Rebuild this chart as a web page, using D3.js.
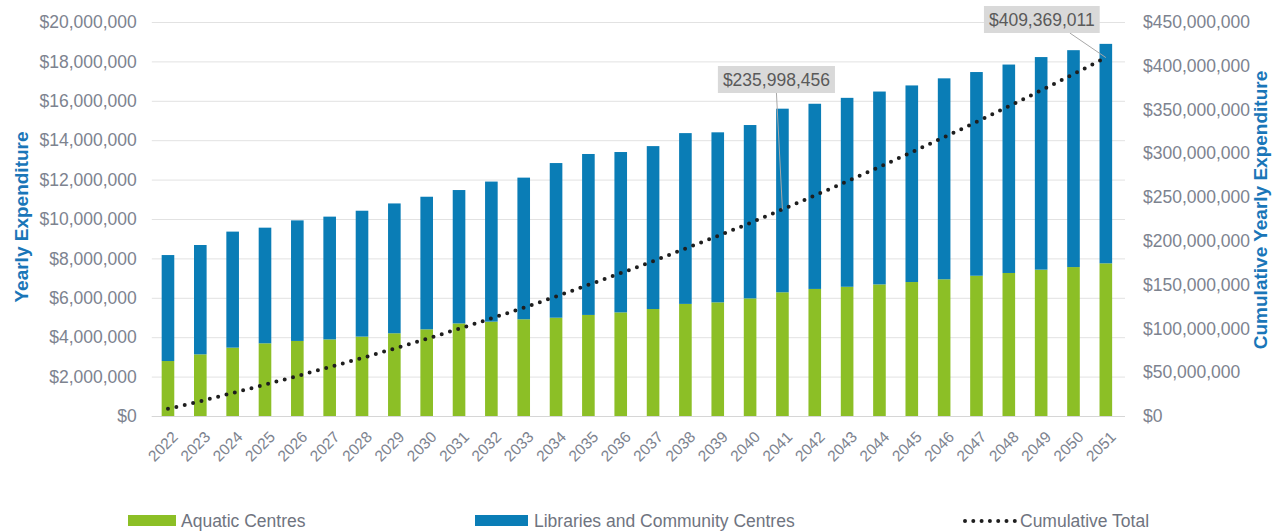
<!DOCTYPE html>
<html>
<head>
<meta charset="utf-8">
<script src="https://cdn.jsdelivr.net/npm/d3@7"></script>
<style>
  html, body { margin: 0; padding: 0; background: #ffffff; }
  svg { display: block; font-family: "Liberation Sans", Arial, sans-serif; }
</style>
</head>
<body>
<svg id="chart" width="1274" height="531"></svg>
<script>
// Capital expenditure by year, 2022–2051
const years = ["2022","2023","2024","2025","2026","2027","2028","2029","2030","2031",
               "2032","2033","2034","2035","2036","2037","2038","2039","2040","2041",
               "2042","2043","2044","2045","2046","2047","2048","2049","2050","2051"];

const aquatic = [2790000, 3130000, 3470000, 3690000, 3810000, 3890000, 4030000, 4200000, 4400000, 4700000,
                 4790000, 4910000, 4990000, 5130000, 5260000, 5430000, 5690000, 5770000, 5970000, 6280000,
                 6450000, 6560000, 6680000, 6800000, 6940000, 7120000, 7260000, 7430000, 7560000, 7750000];

const libraries = [5380000, 5550000, 5890000, 5870000, 6120000, 6230000, 6390000, 6590000, 6730000, 6770000,
                   7110000, 7190000, 7850000, 8170000, 8140000, 8270000, 8670000, 8630000, 8800000, 9320000,
                   9400000, 9590000, 9790000, 9980000, 10200000, 10340000, 10580000, 10790000, 11010000, 11140000];

const cumulative = [8170000, 16850000, 26210000, 35770000, 45700000, 55820000, 66240000, 77030000, 88160000, 99630000,
                    111530000, 123630000, 136470000, 149770000, 163170000, 176870000, 191230000, 205630000, 220400000, 235998456,
                    251850000, 268000000, 284470000, 301250000, 318390000, 335850000, 353690000, 371910000, 390480000, 409369011];

const leftTicks = [0, 2000000, 4000000, 6000000, 8000000, 10000000, 12000000, 14000000, 16000000, 18000000, 20000000];
const rightTicks = [0, 50000000, 100000000, 150000000, 200000000, 250000000, 300000000, 350000000, 400000000, 450000000];

const calloutYears = ["2041", "2051"];

const seriesNames = ["Aquatic Centres", "Libraries and Community Centres", "Cumulative Total"];

// Layout
const plot = { left: 151.8, right: 1122, top: 22, bottom: 416 };
const colors = { aquatic: "#8cbf26", libraries: "#0a7db6", line: "#1e1e1e",
                 grid: "#e2e2e2", tick: "#7d838f", title: "#1a76b8" };
const FONT = "Liberation Sans, Arial, sans-serif";

const svg = d3.select("#chart");

const x = d3.scaleBand().domain(years)
  .range([plot.left, plot.right])
  .paddingInner(0.61).paddingOuter(0.305);
const yL = d3.scaleLinear().domain([0, 20000000]).range([plot.bottom, plot.top]);
const yR = d3.scaleLinear().domain([0, 450000000]).range([plot.bottom, plot.top]);

const money = v => "$" + d3.format(",")(v);

// Gridlines + left axis labels
const leftAxis = svg.append("g")
  .attr("transform", `translate(${plot.left},0)`)
  .call(d3.axisLeft(yL).tickValues(leftTicks).tickFormat(money)
        .tickSize(-(plot.right + 3 - plot.left)).tickPadding(15));
leftAxis.select(".domain").remove();
leftAxis.selectAll(".tick line").attr("stroke", colors.grid).attr("stroke-width", 1);
leftAxis.selectAll(".tick text")
  .attr("fill", colors.tick).attr("font-size", 17.5).attr("font-family", FONT);

// Right axis labels
const rightAxis = svg.append("g")
  .attr("transform", `translate(${plot.right},0)`)
  .call(d3.axisRight(yR).tickValues(rightTicks).tickFormat(money).tickSize(0).tickPadding(21));
rightAxis.select(".domain").remove();
rightAxis.selectAll(".tick text")
  .attr("fill", colors.tick).attr("font-size", 17.5).attr("font-family", FONT);

// Baseline
svg.append("line")
  .attr("x1", plot.left).attr("x2", plot.right + 3)
  .attr("y1", plot.bottom + 0.5).attr("y2", plot.bottom + 0.5)
  .attr("stroke", "#d6d6d6");

// Stacked bars
const rows = years.map((yr, i) => ({ year: yr, aquatic: aquatic[i], libraries: libraries[i] }));
const stacked = d3.stack().keys(["aquatic", "libraries"])(rows);
svg.append("g").selectAll("g")
  .data(stacked).join("g")
  .attr("fill", d => colors[d.key])
  .selectAll("rect")
  .data(d => d).join("rect")
  .attr("x", d => x(d.data.year))
  .attr("width", x.bandwidth())
  .attr("y", d => yL(d[1]))
  .attr("height", d => yL(d[0]) - yL(d[1]));

// X axis labels (rotated)
const xAxis = svg.append("g")
  .attr("transform", `translate(0,${plot.bottom})`)
  .call(d3.axisBottom(x).tickSize(0).tickPadding(0));
xAxis.select(".domain").remove();
xAxis.selectAll(".tick text")
  .attr("fill", colors.tick).attr("font-size", 15.5)
  .attr("font-family", FONT)
  .attr("text-anchor", "end")
  .attr("dy", 0)
  .attr("transform", "translate(11,22) rotate(-45)");

// Cumulative total dotted line
const cx = yr => x(yr) + x.bandwidth() / 2;
const line = d3.line().x((d, i) => cx(years[i])).y(d => yR(d));
svg.append("path")
  .datum(cumulative)
  .attr("d", line)
  .attr("fill", "none")
  .attr("stroke", colors.line)
  .attr("stroke-width", 4)
  .attr("stroke-linecap", "round")
  .attr("stroke-dasharray", "0 8.6");

// Callouts with leader lines
const callouts = [
  { year: calloutYears[0], dx: -6, boxBottom: 93, anchorDx: -6 },
  { year: calloutYears[1], dx: -64, boxBottom: 33, anchorDx: -36 }
];
callouts.forEach(c => {
  const i = years.indexOf(c.year);
  const px = cx(c.year), py = yR(cumulative[i]);
  const g = svg.append("g");
  const label = money(cumulative[i]);
  const t = g.append("text")
    .attr("x", px + c.dx).attr("y", c.boxBottom - 7)
    .attr("text-anchor", "middle")
    .attr("font-size", 17.5).attr("fill", "#5a5a5a")
    .text(label);
  const bb = t.node().getBBox();
  g.insert("rect", "text")
    .attr("x", bb.x - 5).attr("y", c.boxBottom - 27)
    .attr("width", bb.width + 10).attr("height", 27)
    .attr("fill", "#d9d9d9");
  g.insert("line", "rect")
    .attr("x1", px + c.anchorDx).attr("y1", c.boxBottom)
    .attr("x2", px).attr("y2", py)
    .attr("stroke", "#a8a8a8").attr("stroke-width", 1);
});

// Axis titles
svg.append("text")
  .attr("transform", "translate(28,217) rotate(-90)")
  .attr("text-anchor", "middle")
  .attr("font-size", 19).attr("font-weight", "bold").attr("fill", colors.title)
  .text("Yearly Expenditure");
svg.append("text")
  .attr("transform", "translate(1267,210) rotate(-90)")
  .attr("text-anchor", "middle")
  .attr("font-size", 19).attr("font-weight", "bold").attr("fill", colors.title)
  .text("Cumulative Yearly Expenditure");

// Legend
const legend = svg.append("g").attr("font-size", 17.5).attr("fill", "#6f7480");
const lx = [128, 475, 963];
legend.append("rect").attr("x", lx[0]).attr("y", 515).attr("width", 48).attr("height", 11).attr("fill", colors.aquatic);
legend.append("text").attr("x", lx[0] + 53).attr("y", 527).text(seriesNames[0]);
legend.append("rect").attr("x", lx[1]).attr("y", 515).attr("width", 53).attr("height", 11).attr("fill", colors.libraries);
legend.append("text").attr("x", lx[1] + 59).attr("y", 527).text(seriesNames[1]);
legend.append("line").attr("x1", lx[2] + 2).attr("x2", lx[2] + 52).attr("y1", 521).attr("y2", 521)
  .attr("stroke", colors.line).attr("stroke-width", 4).attr("stroke-linecap", "round").attr("stroke-dasharray", "0 8.3");
legend.append("text").attr("x", lx[2] + 57).attr("y", 527).text(seriesNames[2]);
</script>
</body>
</html>
